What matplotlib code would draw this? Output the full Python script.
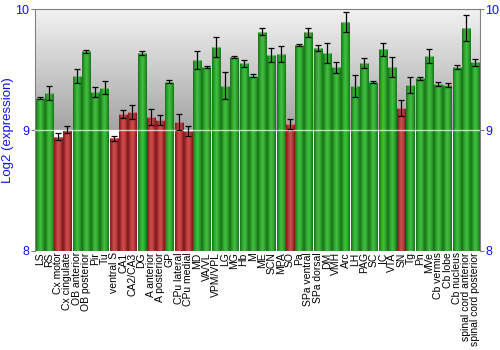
import matplotlib
matplotlib.use('Agg')
import matplotlib.pyplot as plt
import numpy as np
from matplotlib.colors import LinearSegmentedColormap

REGIONS = ['LS', 'RS', 'Cx motor', 'Cx cingulate', 'OB anterior', 'OB posterior', 'Pir', 'Tu',
           'ventral S', 'CA1', 'CA2/CA3', 'DG', 'A anterior', 'A posterior', 'GP', 'CPu lateral',
           'CPu medial', 'MD', 'VA/VL', 'VPM/VPL', 'LG', 'MG', 'Hb', 'M', 'ME', 'SCN', 'MPA', 'SO',
           'Pa', 'SPa ventral', 'SPa dorsal', 'DM', 'VMH', 'Arc', 'LH', 'PAG', 'SC', 'IC', 'VTA',
           'SN', 'Tg', 'Pn', 'MVe', 'Cb vermis', 'Cb lobe', 'Cb nucleus', 'spinal cord anterior',
           'spinal cord posterior']
EXPRESSION = [9.267, 9.306, 8.945, 9.003, 9.444, 9.650, 9.317, 9.350,
              8.931, 9.132, 9.149, 9.636, 9.107, 9.083, 9.400, 9.066,
              8.992, 9.576, 9.521, 9.686, 9.366, 9.603, 9.551, 9.449, 9.813, 9.620, 9.628, 9.050,
              9.705, 9.807, 9.680, 9.636, 9.518, 9.893, 9.364, 9.554, 9.397, 9.667, 9.521,
              9.179, 9.372, 9.427, 9.612, 9.378, 9.369, 9.521, 9.843,
              9.559]
ERROR = [0.008, 0.060, 0.030, 0.030, 0.058, 0.014, 0.040, 0.055,
         0.020, 0.030, 0.056, 0.014, 0.063, 0.045, 0.014, 0.066,
         0.044, 0.074, 0.005, 0.080, 0.110, 0.011, 0.032, 0.014, 0.030, 0.060, 0.069, 0.044,
         0.008, 0.036, 0.026, 0.080, 0.047, 0.080, 0.094, 0.044, 0.011, 0.054, 0.079,
         0.066, 0.065, 0.014, 0.060, 0.017, 0.017, 0.017, 0.107,
         0.030]
LOW_CUTOFF = 9.2

BLUE = '#1010ff'
GREEN_CMAP = LinearSegmentedColormap.from_list('g', ['#187218', '#2ea42e', '#42c042', '#2ea42e', '#177317'])
RED_CMAP = LinearSegmentedColormap.from_list('r', ['#7c1b1b', '#b33636', '#d05050', '#b33636', '#7a1919'])
BG_CMAP = LinearSegmentedColormap.from_list('bg', ['#a4a4a4', '#f2f2f2'])

fig = plt.figure(figsize=(5, 3.5), dpi=100)
ax = fig.add_axes([0.07, 0.283, 0.89, 0.691])

x = np.arange(len(REGIONS))
ax.set_xlim(-0.5, len(REGIONS) - 0.5)
ax.set_ylim(8, 10)

# glossy top half of the background
ax.imshow(np.linspace(0, 1, 100).reshape(-1, 1), cmap=BG_CMAP, aspect='auto',
          extent=(-0.5, len(REGIONS) - 0.5, 9, 10), origin='lower', zorder=0)

bars = ax.bar(x, np.array(EXPRESSION) - 8, bottom=8, width=0.88, color='none',
              edgecolor='none', zorder=2)
grad = np.linspace(0, 1, 50).reshape(1, -1)
for bar, val in zip(bars, EXPRESSION):
    cmap = RED_CMAP if val < LOW_CUTOFF else GREEN_CMAP
    bx, bw = bar.get_x(), bar.get_width()
    im = ax.imshow(grad, cmap=cmap, aspect='auto', extent=(bx, bx + bw, 8, val), zorder=2)
    im.set_clip_path(bar)
    ax.plot([bx, bx + bw], [val, val], color='white', alpha=0.35, lw=0.8, zorder=3)

ax.errorbar(x, EXPRESSION, yerr=ERROR, fmt='none', ecolor='black', elinewidth=0.9,
            capsize=2, capthick=0.9, zorder=4)
ax.axhline(9, color='white', alpha=0.7, lw=1, zorder=3.5)

ax.set_xticks(x)
ax.set_xticklabels(REGIONS, rotation=90, fontsize=7.5, family='Liberation Sans')
ax.tick_params(axis='x', length=0, pad=1)
ax.set_yticks([8, 9, 10])
ax.tick_params(axis='y', colors='#808080', labelcolor=BLUE, labelsize=9, length=3,
               right=True, labelright=True, pad=1)
for lab in ax.get_yticklabels():
    lab.set_family('Liberation Sans')
ax.set_ylabel('Log2 (expression)', color=BLUE, fontsize=9.5, family='Liberation Sans', labelpad=1)

for side in ['left', 'right', 'top']:
    ax.spines[side].set_color('#808080')
ax.spines['bottom'].set_visible(False)

fig.savefig('out.png', dpi=100)
